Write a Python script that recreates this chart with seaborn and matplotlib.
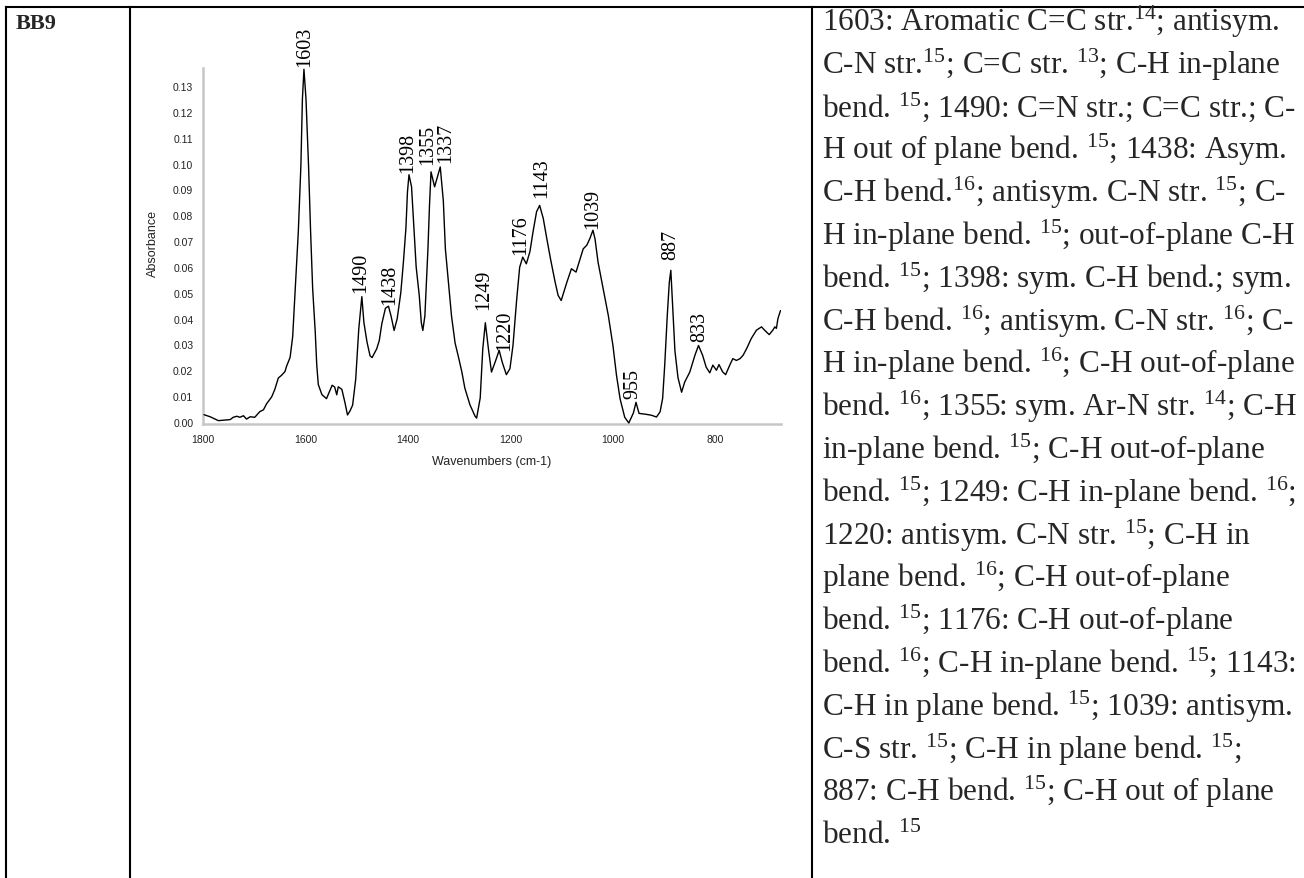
import numpy as np
import pandas as pd
import matplotlib
matplotlib.use("Agg")
import matplotlib.pyplot as plt
import seaborn as sns
from matplotlib.ticker import MultipleLocator, FormatStrFormatter
from matplotlib.lines import Line2D

# ---------------- data ----------------
wavenumber = [1798, 1786, 1770, 1747, 1741, 1734, 1728, 1721, 1715, 1708, 1699, 1689, 1682, 1676,
              1666, 1660, 1653, 1647, 1640, 1637, 1630, 1625, 1620, 1614, 1609, 1606, 1603, 1599,
              1594, 1590, 1586, 1581, 1578, 1575, 1568, 1559, 1548, 1543, 1539, 1536, 1529, 1523,
              1518, 1513, 1508, 1502, 1496, 1490, 1486, 1480, 1474, 1470, 1461, 1456, 1451, 1444,
              1438, 1433, 1427, 1421, 1414, 1409, 1404, 1401, 1398, 1393, 1388, 1384, 1378, 1374,
              1371, 1367, 1364, 1361, 1358, 1355, 1348, 1337, 1331, 1327, 1321, 1315, 1308, 1302,
              1295, 1289, 1279, 1269, 1266, 1259, 1254, 1249, 1243, 1237, 1230, 1222, 1216, 1208,
              1201, 1195, 1188, 1182, 1176, 1169, 1162, 1156, 1149, 1143, 1136, 1129, 1122, 1113,
              1107, 1101, 1090, 1081, 1072, 1064, 1058, 1051, 1045, 1039, 1035, 1029, 1019, 1009,
              1000, 993, 986, 977, 969, 960, 955, 949, 937, 925, 915, 908, 903, 899, 894, 890, 887,
              884, 879, 873, 866, 860, 850, 840, 833, 825, 818, 811, 805, 798, 793, 786, 780, 772,
              766, 759, 752, 746, 739, 730, 720, 710, 704, 695, 688, 684, 681, 678, 673]
absorbance = [0.0028, 0.0020, 0.0005, 0.0009, 0.0018, 0.0022, 0.0018, 0.0024, 0.0011, 0.0020, 0.0018,
              0.0040, 0.0047, 0.0070, 0.0097, 0.0125, 0.0170, 0.0180, 0.0195, 0.0215, 0.0250, 0.0330,
              0.0516, 0.0736, 0.0990, 0.1250, 0.1365, 0.1250, 0.0990, 0.0736, 0.0516, 0.0350, 0.0220,
              0.0145, 0.0106, 0.0090, 0.0142, 0.0135, 0.0105, 0.0136, 0.0126, 0.0075, 0.0027, 0.0043,
              0.0065, 0.0165, 0.0360, 0.0485, 0.0385, 0.0310, 0.0256, 0.0249, 0.0283, 0.0315, 0.0380,
              0.0440, 0.0448, 0.0410, 0.0354, 0.0400, 0.0500, 0.0616, 0.0750, 0.0890, 0.0957, 0.0910,
              0.0736, 0.0600, 0.0490, 0.0385, 0.0354, 0.0410, 0.0540, 0.0670, 0.0838, 0.0968, 0.0910,
              0.0987, 0.0856, 0.0670, 0.0540, 0.0410, 0.0305, 0.0256, 0.0195, 0.0131, 0.0066, 0.0022,
              0.0015, 0.0093, 0.0283, 0.0384, 0.0283, 0.0193, 0.0231, 0.0277, 0.0231, 0.0183, 0.0206,
              0.0297, 0.0470, 0.0599, 0.0638, 0.0612, 0.0659, 0.0735, 0.0814, 0.0838, 0.0788, 0.0709,
              0.0633, 0.0543, 0.0490, 0.0470, 0.0540, 0.0593, 0.0580, 0.0632, 0.0670, 0.0684, 0.0710,
              0.0742, 0.0709, 0.0618, 0.0515, 0.0412, 0.0296, 0.0180, 0.0089, 0.0018, -0.0004, 0.0035,
              0.0076, 0.0033, 0.0030, 0.0026, 0.0019, 0.0039, 0.0091, 0.0217, 0.0410, 0.0540, 0.0587,
              0.0469, 0.0275, 0.0171, 0.0115, 0.0154, 0.0193, 0.0258, 0.0296, 0.0258, 0.0212, 0.0190,
              0.0220, 0.0200, 0.0222, 0.0194, 0.0183, 0.0220, 0.0245, 0.0238, 0.0245, 0.0258, 0.0284,
              0.0323, 0.0355, 0.0368, 0.0355, 0.0338, 0.0355, 0.0368, 0.0362, 0.0400, 0.0431]
peak_labels = [1603, 1490, 1438, 1398, 1355, 1337, 1249, 1220, 1176, 1143, 1039, 955, 887, 833]
x_ticks = [1800, 1600, 1400, 1200, 1000, 800]
y_ticks = [0.00, 0.01, 0.02, 0.03, 0.04, 0.05, 0.06, 0.07, 0.08, 0.09, 0.10, 0.11, 0.12, 0.13]
sample_name = "BB9"
x_label = "Wavenumbers (cm-1)"
y_label = "Absorbance"
assignment_lines = [
    "1603: Aromatic C=C str.$^{14}$; antisym.",
    "C-N str.$^{15}$; C=C str. $^{13}$; C-H in-plane",
    "bend. $^{15}$; 1490: C=N str.; C=C str.; C-",
    "H out of plane bend. $^{15}$; 1438: Asym.",
    "C-H bend.$^{16}$; antisym. C-N str. $^{15}$; C-",
    "H in-plane bend. $^{15}$; out-of-plane C-H",
    "bend. $^{15}$; 1398: sym. C-H bend.; sym.",
    "C-H bend. $^{16}$; antisym. C-N str. $^{16}$; C-",
    "H in-plane bend. $^{16}$; C-H out-of-plane",
    "bend. $^{16}$; 1355: sym. Ar-N str. $^{14}$; C-H",
    "in-plane bend. $^{15}$; C-H out-of-plane",
    "bend. $^{15}$; 1249: C-H in-plane bend. $^{16}$;",
    "1220: antisym. C-N str. $^{15}$; C-H in",
    "plane bend. $^{16}$; C-H out-of-plane",
    "bend. $^{15}$; 1176: C-H out-of-plane",
    "bend. $^{16}$; C-H in-plane bend. $^{15}$; 1143:",
    "C-H in plane bend. $^{15}$; 1039: antisym.",
    "C-S str. $^{15}$; C-H in plane bend. $^{15}$;",
    "887: C-H bend. $^{15}$; C-H out of plane",
    "bend. $^{15}$",
]

# small label nudges (pixels: dx, gap above peak) so crowded labels do not collide
label_nudge = {1603: (1, 3), 1490: (-1, 5), 1438: (1, 2), 1398: (-1, 3), 1355: (-3, 8),
               1337: (5, 5), 1249: (-2, 14), 1220: (5, 0), 1176: (-2, 3), 1143: (2, 8),
               1039: (0, 2), 955: (-3, 4), 887: (0, 11), 833: (1, 4)}

# ---------------- style ----------------
sns.set_theme(style="white")
plt.rcParams["font.family"] = ["Liberation Sans", "DejaVu Sans"]
plt.rcParams["mathtext.fontset"] = "custom"
plt.rcParams["mathtext.rm"] = "Liberation Serif"
plt.rcParams["mathtext.it"] = "Liberation Serif:italic"
plt.rcParams["mathtext.bf"] = "Liberation Serif:bold"
plt.rcParams["mathtext.default"] = "rm"

W, H = 1304, 879
fig = plt.figure(figsize=(W / 100, H / 100), dpi=100)
fig.patch.set_facecolor("white")


def fx(px):
    return px / W


def fy(py):
    return 1 - py / H


# table grid
lw_tab = 1.5
for (x0, y0, x1, y1) in [(6, 8, W, 8), (6, 8, 6, H), (130, 8, 130, H), (812, 8, 812, H)]:
    fig.add_artist(Line2D([fx(x0), fx(x1)], [fy(y0), fy(y1)], transform=fig.transFigure,
                          color="black", linewidth=lw_tab, solid_capstyle="projecting"))

fig.text(fx(16), fy(29), sample_name, fontsize=16, fontweight="bold",
         family="Liberation Serif", ha="left", va="baseline")

for i, line in enumerate(assignment_lines):
    fig.text(fx(822), fy(31 + i * 42.8), line, fontsize=22.5, family="Liberation Serif",
             ha="left", va="baseline")

# spectrum axes
ax = fig.add_axes([fx(203), fy(425), (781 - 203) / W, (425 - 69) / H])
ax.set_facecolor("white")
df = pd.DataFrame({"Wavenumber": wavenumber, "Absorbance": absorbance})
sns.lineplot(data=df, x="Wavenumber", y="Absorbance", ax=ax, color="black", linewidth=1.0,
             estimator=None, sort=False, zorder=3)
ax.set_xlim(1800, 672)
ax.set_ylim(-0.0008, 0.137)
ax.set_xticks(x_ticks)
ax.set_yticks(y_ticks)
ax.yaxis.set_major_formatter(FormatStrFormatter("%.2f"))
ax.xaxis.set_minor_locator(MultipleLocator(50))
ax.yaxis.set_minor_locator(MultipleLocator(0.002))
for s in ["top", "right"]:
    ax.spines[s].set_visible(False)
for s in ["left", "bottom"]:
    ax.spines[s].set_color("#c6c6c6")
    ax.spines[s].set_linewidth(1.8)
    ax.spines[s].set_zorder(0.5)
ax.tick_params(which="major", direction="out", length=3, width=0.8, color="#333333",
               labelsize=7.5, pad=4, labelcolor="#222222")
ax.tick_params(which="minor", direction="inout", length=2.2, width=0.6, color="#555555")
ax.grid(False)

ax.set_xlabel(x_label, fontsize=9, color="#222222")
ax.set_ylabel(y_label, fontsize=9, color="#222222")
ax.xaxis.set_label_coords(0.5, -(462 - 425) / 356)
ax.xaxis.label.set_va("center")
ax.yaxis.set_label_coords(-(203 - 153) / 578, (425 - 244) / 356)
ax.yaxis.label.set_va("center")

wn_arr = np.array(wavenumber)
ab_arr = np.array(absorbance)
for p in peak_labels:
    m = np.abs(wn_arr - p) <= 6
    top = ab_arr[m].max()
    dx, gap = label_nudge[p]
    ax.annotate(str(p), xy=(p, top), xytext=(dx * 0.72, gap * 0.72), textcoords="offset points",
                rotation=90, ha="center", va="bottom", fontsize=14.5,
                family="Liberation Serif", color="black", annotation_clip=False)

fig.savefig("out.png", dpi=100, facecolor="white")
